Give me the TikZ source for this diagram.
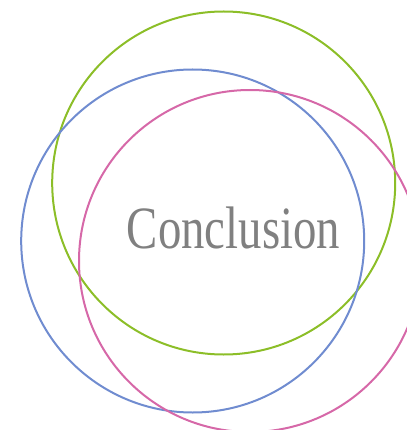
\documentclass[tikz,border=0pt]{standalone}
\usepackage{fontspec}
\setmainfont{Liberation Serif}
\definecolor{cgreen}{RGB}{140,190,40}
\definecolor{cblue}{RGB}{112,140,208}
\definecolor{cpink}{RGB}{214,104,168}
\definecolor{ctext}{RGB}{128,128,128}
\tikzset{ring/.style={line width=2pt}}
\begin{document}
\begin{tikzpicture}[x=1pt,y=-1pt]
\useasboundingbox (0,0) rectangle (406,430);
\draw[ring,cgreen] (223.7,183) circle (171.5);
\draw[ring,cblue] (192.7,241) circle (171.5);
\draw[ring,cpink] (250,261) circle (171);
\node[anchor=base,inner sep=0pt,text=ctext,font=\fontsize{60}{60}\selectfont] (title) at (233.5,248) {\scalebox{0.78}[1]{Conclusion}};
\end{tikzpicture}
\end{document}
